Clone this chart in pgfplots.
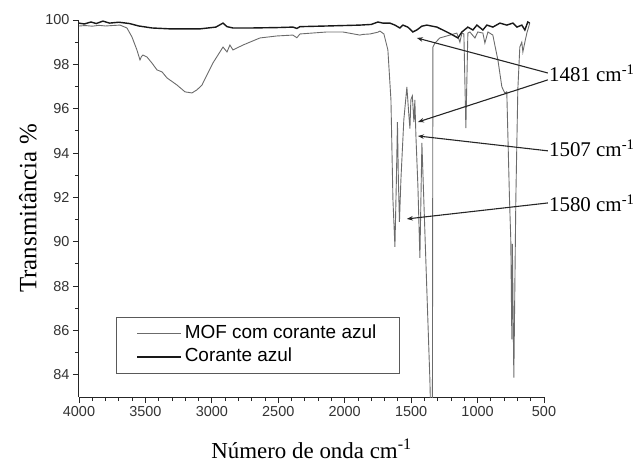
\documentclass[border=0pt]{standalone}
\usepackage{fontspec}
\setmainfont{Liberation Sans}
\newfontfamily\serif{Liberation Serif}
\usepackage{pgfplots}
\pgfplotsset{compat=1.18}
\usetikzlibrary{arrows.meta}

\pgfplotstableread{
x y
4000 99.73
3950 99.75
3900 99.72
3850 99.76
3800 99.73
3750 99.75
3691 99.77
3639 99.64
3601 99.23
3564 98.65
3541 98.20
3530 98.35
3518 98.42
3488 98.33
3451 98.06
3413 97.75
3375 97.66
3338 97.39
3263 97.07
3202 96.76
3150 96.71
3112 96.85
3074 97.07
3037 97.52
2992 98.06
2954 98.42
2916 98.78
2886 98.56
2864 98.87
2841 98.65
2766 98.87
2638 99.19
2510 99.28
2390 99.32
2360 99.20
2337 99.37
2134 99.46
2014 99.46
1886 99.32
1863 99.35
1810 99.37
1750 99.45
1735 99.50
1705 99.37
1675 98.65
1652 96.40
1637 91.90
1622 89.77
1611 92.80
1603 95.40
1596 92.80
1588 90.90
1577 92.80
1555 95.50
1532 96.98
1517 95.70
1509 95.10
1502 96.40
1491 96.58
1479 95.40
1472 96.40
1464 94.77
1449 92.50
1434 89.27
1419 94.46
1389 89.10
1359 83.80
1352 82.00
1340 82.00
1337 95.00
1336 98.78
1321 98.96
1284 99.19
1208 99.32
1156 99.41
1133 99.00
1118 99.41
1103 99.37
1088 95.13
1073 99.41
1058 99.46
1020 99.19
998 99.46
960 99.41
945 98.96
922 99.46
885 99.32
870 98.87
847 98.20
817 96.98
795 96.71
780 96.76
760 92.00
750 90.10
742 85.60
738 89.90
727 83.87
712 91.90
697 96.85
682 98.78
667 99.00
659 98.56
644 99.00
629 99.41
607 99.86
}\mof

\pgfplotstableread{
x y
4000 99.86
3960 99.82
3910 99.91
3870 99.84
3820 99.95
3770 99.86
3700 99.90
3620 99.84
3550 99.73
3450 99.64
3315 99.60
3200 99.60
3090 99.60
2970 99.68
2916 99.86
2886 99.70
2841 99.64
2700 99.64
2500 99.66
2390 99.68
2360 99.62
2337 99.70
2134 99.73
1886 99.77
1800 99.80
1750 99.91
1713 99.86
1660 99.86
1622 99.77
1585 99.64
1562 99.77
1525 99.68
1487 99.46
1457 99.55
1420 99.72
1382 99.77
1306 99.68
1231 99.46
1186 99.32
1148 99.19
1118 99.46
1073 99.68
1035 99.55
1005 99.77
960 99.55
930 99.77
885 99.68
832 99.86
780 99.77
734 99.86
704 99.68
667 99.77
644 99.55
622 99.91
607 99.86
}\dye

\begin{document}
\begin{tikzpicture}
\useasboundingbox (-79bp,-65bp) rectangle (556bp,397bp);
\begin{axis}[
  at={(0,0)}, anchor=south west,
  scale only axis, width=465bp, height=377bp,
  x dir=reverse, xmin=500, xmax=4000, ymin=83, ymax=100,
  axis x line*=bottom, axis y line*=left,
  axis line style={line width=1bp, black!85},
  xtick={500,1000,...,4000}, ytick={84,86,...,100},
  minor x tick num=4, minor y tick num=1,
  tick align=outside, major tick length=6bp, minor tick length=4bp,
  every tick/.style={line width=0.9bp, black!85},
  /pgf/number format/assume math mode=true,
  /pgf/number format/1000 sep={},
  ticklabel style={font=\fontsize{14.5}{16}\selectfont, text=black!80},
  xlabel={Número de onda cm\textsuperscript{-1}},
  ylabel={Transmitância \%},
  label style={font=\serif\fontsize{23}{26}\selectfont},
  xlabel style={at={(axis description cs:0.5,-0.162)}, anchor=base},
  ylabel style={at={(axis description cs:-0.11,0.5)}, anchor=center, font=\serif\fontsize{25}{28}\selectfont},
  legend style={at={(rel axis cs:0.0796,0.2122)}, anchor=north west,
    draw=black!65, line width=0.8bp, font=\fontsize{19}{21}\selectfont,
    inner xsep=20bp, inner ysep=5bp, row sep=0bp,
    nodes={inner sep=3bp, text height=13bp, text depth=4bp}},
  legend cell align=left,
  legend image code/.code={\draw[#1] (0bp,0bp) -- (44bp,0bp);},
]
\addplot[black!58, line width=0.9bp] table[x=x,y=y] {\mof};
\addlegendentry{MOF com corante azul}
\addplot[black!90, line width=1.4bp] table[x=x,y=y] {\dye};
\addlegendentry{Corante azul}
\coordinate (L1) at (axis cs:463,97.21);
\coordinate (L2) at (axis cs:463,93.83);
\coordinate (L3) at (axis cs:463,91.35);
\coordinate (A1s) at (axis cs:471,97.61);
\coordinate (A1e) at (axis cs:1457,99.19);
\coordinate (A2s) at (axis cs:471,97.30);
\coordinate (A2e) at (axis cs:1449,95.40);
\coordinate (A3s) at (axis cs:471,94.10);
\coordinate (A3e) at (axis cs:1449,94.77);
\coordinate (A4s) at (axis cs:471,91.75);
\coordinate (A4e) at (axis cs:1532,91.03);
\end{axis}
\begin{scope}[black!85, line width=1.1bp, -{Stealth[length=6bp,width=4.5bp]}]
\draw (A1s) -- (A1e);
\draw (A2s) -- (A2e);
\draw (A3s) -- (A3e);
\draw (A4s) -- (A4e);
\end{scope}
\begin{scope}[every node/.style={anchor=base west, inner sep=0pt, font=\serif\fontsize{21}{24}\selectfont}]
\node at (L1) {1481 cm\textsuperscript{-1}};
\node at (L2) {1507 cm\textsuperscript{-1}};
\node at (L3) {1580 cm\textsuperscript{-1}};
\end{scope}
\end{tikzpicture}
\end{document}
